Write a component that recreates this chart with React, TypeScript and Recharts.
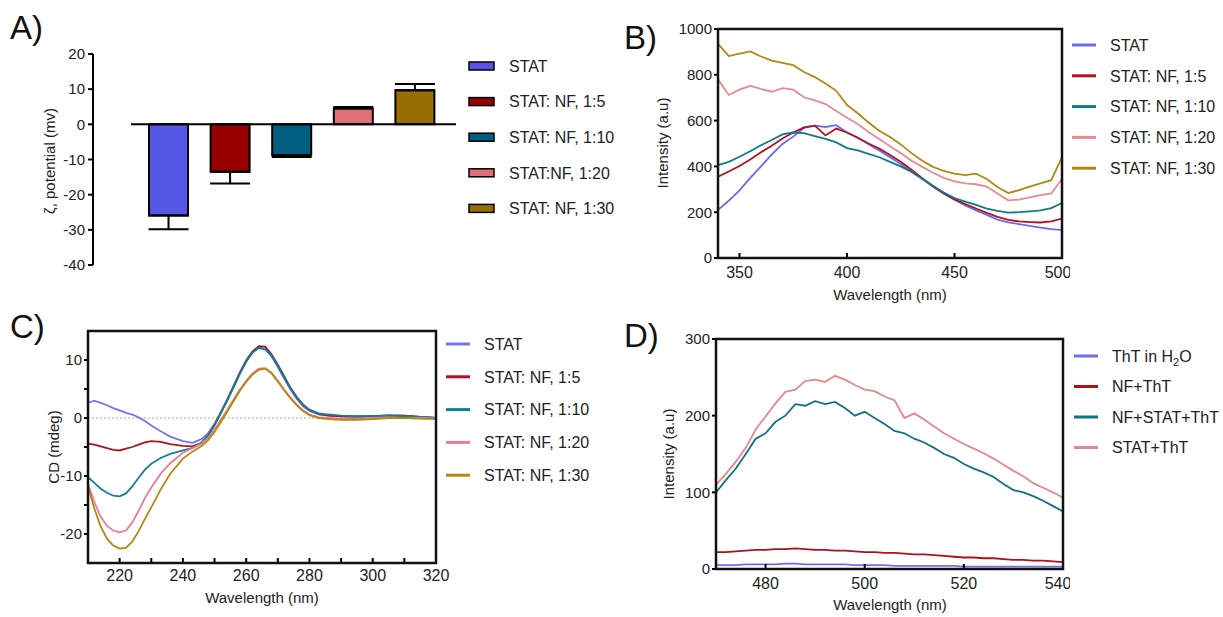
import React from 'react';
import {
  BarChart, Bar, Cell, ErrorBar, LineChart, Line, XAxis, YAxis, ReferenceLine,
} from 'recharts';

const FONT = '"Liberation Sans", Arial, Helvetica, sans-serif';
const INK = '#222';

// A) zeta potential
const zetaGroups = ['STAT', 'STAT: NF, 1:5', 'STAT: NF, 1:10', 'STAT:NF, 1:20', 'STAT: NF, 1:30'];
const zetaMean = [-25.9, -13.5, -8.7, 4.5, 9.7];
const zetaSd = [3.9, 3.3, 0.6, 0.4, 1.8];
const zetaColors = ['#5555E6', '#990000', '#005E80', '#E07078', '#996E00'];
const zetaTicks = [-40, -30, -20, -10, 0, 10, 20];

// B) emission spectra
const emX = [340, 345, 350, 355, 360, 365, 370, 375, 380, 385, 390, 395, 400, 405, 410, 415, 420, 425, 430, 435, 440, 445, 450, 455, 460, 465, 470, 475, 480, 485, 490, 495, 500];
const emStat = [210, 250, 295, 350, 400, 452, 498, 530, 568, 578, 572, 580, 548, 525, 497, 470, 440, 410, 378, 345, 312, 282, 255, 230, 208, 188, 168, 156, 148, 140, 133, 126, 122];
const em15 = [355, 378, 402, 430, 462, 490, 522, 548, 570, 578, 535, 565, 548, 525, 500, 478, 450, 420, 385, 348, 312, 282, 256, 236, 216, 197, 180, 166, 160, 157, 155, 160, 172];
const em110 = [405, 420, 442, 466, 492, 515, 540, 548, 545, 532, 520, 505, 480, 470, 455, 440, 420, 400, 376, 346, 316, 286, 262, 246, 232, 216, 206, 198, 200, 204, 208, 218, 240];
const em120 = [780, 712, 735, 752, 738, 726, 742, 735, 702, 688, 672, 642, 612, 585, 550, 520, 488, 458, 425, 398, 372, 350, 335, 326, 322, 312, 282, 252, 255, 265, 275, 282, 345];
const em130 = [935, 882, 892, 902, 880, 862, 852, 842, 812, 790, 762, 730, 668, 632, 592, 556, 528, 496, 458, 425, 398, 380, 368, 362, 368, 345, 310, 284, 296, 312, 326, 340, 440];

// C) CD spectra
const cdX = [210, 212, 214, 216, 218, 220, 222, 224, 226, 228, 230, 233, 236, 240, 243, 246, 248, 250, 252, 254, 256, 258, 260, 262, 264, 266, 268, 270, 272, 274, 276, 278, 280, 283, 286, 290, 295, 300, 305, 310, 315, 320];
const cdStat = [2.6, 3.0, 2.6, 2.2, 1.7, 1.3, 0.9, 0.6, 0.1, -0.5, -1.3, -2.3, -3.2, -4.0, -4.3, -3.6, -2.6, -1.0, 1.0, 3.2, 5.5, 7.8, 9.8, 11.3, 12.2, 11.9, 10.6, 8.8, 6.8, 4.9, 3.3, 2.0, 1.2, 0.6, 0.4, 0.3, 0.3, 0.3, 0.5, 0.4, 0.2, 0.0];
const cd15 = [-4.4, -4.6, -4.9, -5.2, -5.5, -5.6, -5.3, -5.0, -4.6, -4.2, -4.0, -4.1, -4.5, -4.8, -4.9, -4.3, -3.0, -1.2, 0.9, 3.1, 5.4, 7.8, 9.9, 11.5, 12.4, 12.3, 11.0, 9.2, 7.2, 5.2, 3.6, 2.3, 1.4, 0.7, 0.4, 0.3, 0.2, 0.3, 0.4, 0.4, 0.2, 0.0];
const cd110 = [-10.2, -11.2, -12.2, -12.9, -13.4, -13.5, -13.0, -11.8, -10.3, -8.9, -7.9, -6.9, -6.2, -5.6, -5.2, -4.2, -3.0, -1.2, 0.9, 3.0, 5.3, 7.6, 9.7, 11.3, 12.1, 11.8, 10.8, 9.0, 7.0, 5.1, 3.5, 2.2, 1.4, 0.8, 0.6, 0.4, 0.3, 0.3, 0.4, 0.3, 0.2, 0.0];
const cd120 = [-11.3, -14.5, -17.0, -18.6, -19.4, -19.7, -19.4, -18.0, -16.0, -13.8, -12.0, -9.6, -7.8, -6.0, -5.2, -4.4, -3.4, -2.0, -0.3, 1.4, 3.2, 4.9, 6.4, 7.7, 8.5, 8.6, 7.8, 6.4, 4.9, 3.5, 2.3, 1.3, 0.6, 0.1, 0.0, -0.1, -0.1, 0.0, 0.1, 0.0, 0.0, -0.1];
const cd130 = [-11.8, -15.6, -18.7, -20.8, -22.0, -22.5, -22.4, -21.3, -19.5, -17.4, -15.4, -12.3, -9.6, -7.0, -5.8, -4.8, -3.8, -2.4, -0.7, 1.1, 2.9, 4.7, 6.2, 7.5, 8.3, 8.5, 7.7, 6.3, 4.8, 3.4, 2.2, 1.2, 0.5, 0.0, -0.2, -0.3, -0.3, -0.2, 0.0, 0.0, -0.1, -0.2];

// D) ThT fluorescence
const dX = [470, 472, 474, 476, 478, 480, 482, 484, 486, 488, 490, 492, 494, 496, 498, 500, 502, 504, 506, 508, 510, 512, 514, 516, 518, 520, 522, 524, 526, 528, 530, 532, 534, 536, 538, 540];
const dWater = [5, 5, 5, 6, 6, 6, 6, 7, 7, 6, 6, 6, 6, 6, 5, 5, 5, 5, 4, 4, 4, 4, 4, 4, 4, 3, 3, 3, 3, 3, 3, 3, 3, 3, 3, 3];
const dNf = [22, 22, 23, 24, 25, 25, 26, 26, 27, 26, 25, 25, 24, 24, 23, 22, 22, 21, 21, 20, 19, 19, 18, 17, 16, 15, 15, 14, 14, 13, 12, 12, 11, 11, 10, 9];
const dNfStat = [100, 116, 131, 150, 170, 177, 192, 200, 215, 213, 219, 215, 218, 210, 200, 205, 197, 189, 180, 177, 170, 165, 158, 150, 145, 137, 131, 126, 120, 111, 103, 100, 95, 89, 82, 75];
const dStat = [110, 124, 140, 158, 182, 199, 216, 231, 234, 245, 247, 244, 252, 247, 240, 234, 232, 225, 220, 197, 203, 195, 186, 177, 170, 163, 157, 151, 144, 136, 128, 121, 112, 106, 100, 93];

const emSeries = [
  { key: 'stat', name: 'STAT', color: '#6B6BF0', values: emStat },
  { key: 'r5', name: 'STAT: NF, 1:5', color: '#B3121E', values: em15 },
  { key: 'r10', name: 'STAT: NF, 1:10', color: '#117A87', values: em110 },
  { key: 'r20', name: 'STAT: NF, 1:20', color: '#E98A90', values: em120 },
  { key: 'r30', name: 'STAT: NF, 1:30', color: '#B38712', values: em130 },
];
const cdSeries = [
  { key: 'stat', name: 'STAT', color: '#7575F2', values: cdStat },
  { key: 'r5', name: 'STAT: NF, 1:5', color: '#A81420', values: cd15 },
  { key: 'r10', name: 'STAT: NF, 1:10', color: '#11808F', values: cd110 },
  { key: 'r20', name: 'STAT: NF, 1:20', color: '#EE7A9A', values: cd120 },
  { key: 'r30', name: 'STAT: NF, 1:30', color: '#B8860B', values: cd130 },
];
const thtSeries = [
  { key: 'water', name: 'ThT in H2O', color: '#6F6FEF', values: dWater },
  { key: 'nf', name: 'NF+ThT', color: '#AE111C', values: dNf },
  { key: 'nfstat', name: 'NF+STAT+ThT', color: '#0F7286', values: dNfStat },
  { key: 'stat', name: 'STAT+ThT', color: '#E6878D', values: dStat },
];

type Series = { key: string; name: string; color: string; values: number[] };

const toRows = (xs: number[], series: Series[]) =>
  xs.map((x, i) => {
    const row: Record<string, number> = { x };
    series.forEach((s) => { row[s.key] = s.values[i]; });
    return row;
  });

const zetaData = zetaGroups.map((g, i) => ({
  group: g,
  mean: zetaMean[i],
  sd: zetaMean[i] < 0 ? [zetaSd[i], 0] : [0, zetaSd[i]],
}));

const yTick = { fontSize: 15, fill: INK, fontFamily: FONT };
const xTick = { fontSize: 16, fill: INK, fontFamily: FONT };
const frame = { stroke: '#000', strokeWidth: 2 };

const Y_W = 50;
const X_H = 30;

type Box = { left: number; top: number; width: number; height: number; margin: { top: number; right: number; bottom: number; left: number } };
const boxB: Box = { left: 650, top: 0, width: 420, height: 300, margin: { top: 29, right: 8, bottom: 12, left: 18 } };
const boxC: Box = { left: 0, top: 310, width: 450, height: 300, margin: { top: 21, right: 14, bottom: 17, left: 38 } };
const boxD: Box = { left: 650, top: 310, width: 420, height: 300, margin: { top: 29, right: 7, bottom: 11, left: 16 } };

// plot-area rectangle of a panel, in page pixels
const plotRect = (b: Box) => ({
  x: b.left + b.margin.left + Y_W,
  y: b.top + b.margin.top,
  w: b.width - b.margin.left - b.margin.right - Y_W,
  h: b.height - b.margin.top - b.margin.bottom - X_H,
});

type SpecProps = {
  box: Box; xs: number[]; series: Series[];
  xDomain: [number, number]; xTicks: number[]; xLabel?: (v: number) => string; xMargin: number;
  yDomain: [number, number]; yTicks: number[]; yLabel?: (v: number) => string;
  zero?: boolean;
};

const Spectrum = (p: SpecProps) => (
  <div style={{ position: 'absolute', left: p.box.left, top: p.box.top }}>
    <LineChart width={p.box.width} height={p.box.height} data={toRows(p.xs, p.series)} margin={p.box.margin}>
      <XAxis
        dataKey="x" type="number" domain={p.xDomain} ticks={p.xTicks} allowDataOverflow
        height={X_H} tick={xTick} tickFormatter={p.xLabel} tickSize={-5} tickMargin={p.xMargin}
        axisLine={frame} tickLine={frame}
      />
      <YAxis
        type="number" domain={p.yDomain} ticks={p.yTicks} allowDataOverflow width={Y_W}
        tick={yTick} tickFormatter={p.yLabel} tickSize={4} tickMargin={2}
        axisLine={frame} tickLine={frame}
      />
      {p.zero && <ReferenceLine y={0} stroke="#aaa" strokeDasharray="2 2" strokeWidth={1.2} />}
      {p.series.map((s) => (
        <Line key={s.key} type="linear" dataKey={s.key} name={s.name} stroke={s.color}
          strokeWidth={1.8} dot={false} isAnimationActive={false} />
      ))}
    </LineChart>
  </div>
);

type LegendItem = { label: React.ReactNode; color: string };

const LegendBlock = ({ x, y, step, textX, items, box }: {
  x: number; y: number; step: number; textX: number; items: LegendItem[]; box?: boolean;
}) => (
  <g>
    {items.map((it, i) => {
      const cy = y + i * step;
      return (
        <g key={i}>
          {box
            ? <rect x={x} y={cy - 4} width={25} height={8} fill={it.color} stroke="#000" strokeWidth={1.5} />
            : <line x1={x} x2={x + 24} y1={cy} y2={cy} stroke={it.color} strokeWidth={3} />}
          <text x={textX} y={cy + 5.7} fontSize={16} fill={INK}>{it.label}</text>
        </g>
      );
    })}
  </g>
);

const Title = ({ x, y, text, rotate }: { x: number; y: number; text: string; rotate?: boolean }) => (
  <text x={x} y={y} fontSize={15} fill={INK} textAnchor="middle"
    transform={rotate ? `rotate(-90 ${x} ${y})` : undefined}>{text}</text>
);

export default function App() {
  return (
    <div style={{ position: 'absolute', left: 0, top: 0, width: 1223, height: 617, background: '#fff', fontFamily: FONT, overflow: 'hidden' }}>
      {/* A) */}
      <div style={{ position: 'absolute', left: 0, top: 0 }}>
        <BarChart width={470} height={300} data={zetaData} margin={{ top: 54, right: 14, bottom: 35, left: 43 }}>
          <XAxis dataKey="group" hide padding={{ left: 7, right: 10 }} />
          <YAxis yAxisId="gap" width={38} domain={[-40, 20]} tick={false} axisLine={false} tickLine={false} />
          <YAxis
            yAxisId="z" width={50} domain={[-40, 20]} ticks={zetaTicks} allowDataOverflow
            tick={yTick} tickSize={5} tickMargin={3} axisLine={frame} tickLine={frame}
          />
          <ReferenceLine yAxisId="z" y={0} stroke="#000" strokeWidth={2} />
          <Bar yAxisId="z" dataKey="mean" barSize={39} stroke="#000" strokeWidth={2} isAnimationActive={false}>
            {zetaData.map((d, i) => <Cell key={d.group} fill={zetaColors[i]} />)}
            <ErrorBar dataKey="sd" direction="y" width={20} stroke="#000" strokeWidth={2} />
          </Bar>
        </BarChart>
      </div>

      <Spectrum
        box={boxB} xs={emX} series={emSeries}
        xDomain={[340, 500]} xTicks={[350, 400, 450, 500]} xMargin={14}
        yDomain={[0, 1000]} yTicks={[0, 200, 400, 600, 800, 1000]}
      />

      <Spectrum
        box={boxC} xs={cdX} series={cdSeries}
        xDomain={[210, 320]} xTicks={[210, 220, 230, 240, 250, 260, 270, 280, 290, 300, 310, 320]}
        xLabel={(v) => (v % 20 === 0 ? String(v) : '')} xMargin={12}
        yDomain={[-25, 15]} yTicks={[-20, -15, -10, -5, 0, 5, 10]}
        yLabel={(v) => (v % 10 === 0 ? String(v) : '')}
        zero
      />

      <Spectrum
        box={boxD} xs={dX} series={thtSeries}
        xDomain={[470, 540]} xTicks={[480, 500, 520, 540]} xMargin={14}
        yDomain={[0, 300]} yTicks={[0, 100, 200, 300]}
      />

      <svg width={1223} height={617} style={{ position: 'absolute', left: 0, top: 0, pointerEvents: 'none', fontFamily: FONT }}>
        {[boxB, boxC, boxD].map((b, i) => {
          const r = plotRect(b);
          return (
            <rect key={i} x={r.x} y={r.y} width={r.w} height={r.h}
              fill="none" stroke="#111" strokeWidth={2.5} />
          );
        })}

        <text x={10} y={39} fontSize={33} fill="#111">A)</text>
        <text x={624} y={49} fontSize={33} fill="#111">B)</text>
        <text x={10} y={338} fontSize={33} fill="#111">C)</text>
        <text x={624} y={347} fontSize={33} fill="#111">D)</text>

        <Title x={55} y={161} text="ζ, potential (mv)" rotate />
        <Title x={668} y={143} text="Intensity (a.u)" rotate />
        <Title x={890} y={300} text="Wavelength (nm)" />
        <Title x={59} y={447} text="CD (mdeg)" rotate />
        <Title x={262} y={603} text="Wavelength (nm)" />
        <Title x={674} y={454} text="Intensity (a.u)" rotate />
        <Title x={890} y={610} text="Wavelength (nm)" />

        <LegendBlock x={469} y={66} step={35.6} textX={509} box
          items={zetaGroups.map((g, i) => ({ label: g, color: zetaColors[i] }))} />
        <LegendBlock x={1072} y={45} step={30.8} textX={1110}
          items={emSeries.map((s) => ({ label: s.name, color: s.color }))} />
        <LegendBlock x={446} y={344} step={32.8} textX={484}
          items={cdSeries.map((s) => ({ label: s.name, color: s.color }))} />
        <LegendBlock x={1074} y={356} step={30.5} textX={1112}
          items={thtSeries.map((s) => ({
            label: s.key === 'water'
              ? <>ThT in H<tspan dy={4} fontSize={11}>2</tspan><tspan dy={-4}>O</tspan></>
              : s.name,
            color: s.color,
          }))} />
      </svg>
    </div>
  );
}
